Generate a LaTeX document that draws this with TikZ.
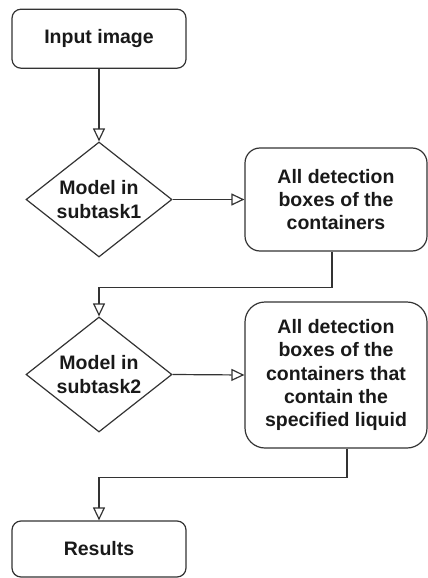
\documentclass[tikz,border=0pt]{standalone}
\usepackage{fontspec}
\setmainfont{Liberation Sans}
\usetikzlibrary{shapes.geometric,arrows.meta}
\begin{document}
\begin{tikzpicture}[x=1pt,y=-1pt,
  txt/.style={font=\fontsize{19.5}{23.3}\selectfont\bfseries, text=black!90, align=center},
  rbox/.style={draw=black!80, line width=1.2pt, rectangle, rounded corners=#1, inner sep=0pt, txt},
  dia/.style={draw=black!80, line width=1.2pt, diamond, inner sep=0pt, minimum width=146pt, minimum height=115pt},
  conn/.style={draw=black!80, line width=1.2pt, -{Triangle[open, length=13pt, width=12pt]}}
]
\useasboundingbox (0,0) rectangle (428,578);
\node[rbox=9pt, minimum width=174pt, minimum height=59pt] (in) at (99,38.7) {Input image};
\node[dia] (d1) at (99,199.5) {};
\node[txt] at (d1) {Model in\\subtask1};
\node[rbox=15pt, minimum width=182pt, minimum height=103pt] (b1) at (336,199.5) {All detection\\boxes of the\\containers};
\node[dia] (d2) at (99,374.5) {};
\node[txt] at (d2) {Model in\\subtask2};
\node[rbox=20pt, minimum width=182pt, minimum height=146pt] (b2) at (336,375) {All detection\\boxes of the\\containers that\\contain the\\specified liquid};
\node[rbox=9pt, minimum width=174pt, minimum height=56pt] (res) at (99,549) {Results};
\draw[conn] (in.south) -- (d1.north);
\draw[conn] (d1.east) -- (b1.west);
\draw[conn] ([xshift=-4pt]b1.south) -- ++(0,36) -| (d2.north);
\draw[conn] (d2.east) -- (b2.west);
\draw[conn] ([xshift=11pt]b2.south) -- ++(0,29) -| (res.north);
\end{tikzpicture}
\end{document}
